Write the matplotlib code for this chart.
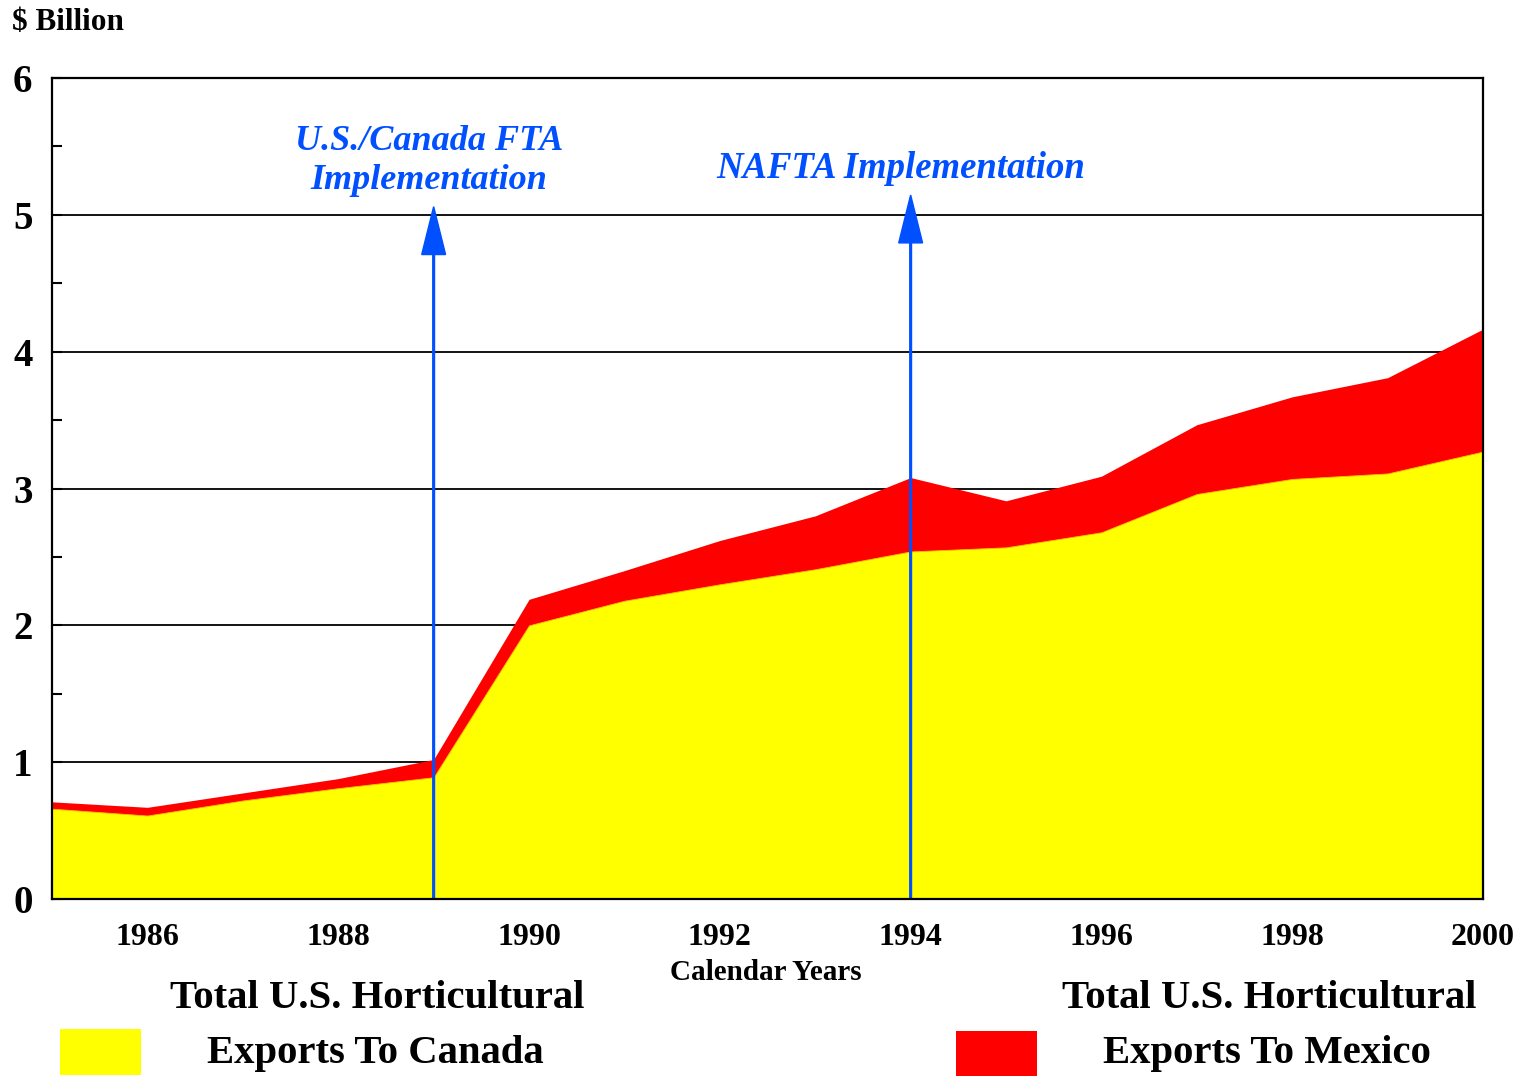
import matplotlib.pyplot as plt
from matplotlib.patches import Rectangle
from matplotlib.ticker import MultipleLocator
import numpy as np

plt.rcParams['font.family'] = ['Liberation Serif', 'DejaVu Serif']
plt.rcParams['font.weight'] = 'bold'

# 数据（十亿美元）
years = np.arange(1985, 2001)
canada = [0.66, 0.61, 0.72, 0.81, 0.89, 2.00, 2.18, 2.30, 2.41, 2.54,
          2.57, 2.68, 2.96, 3.07, 3.11, 3.27]
total = [0.71, 0.67, 0.775, 0.88, 1.02, 2.19, 2.40, 2.62, 2.80, 3.08,
         2.91, 3.09, 3.466, 3.67, 3.81, 4.165]
series_labels = ['Total U.S. Horticultural\nExports To Canada',
                 'Total U.S. Horticultural\nExports To Mexico']
series_colors = ['#FFFF00', '#FF0000']
events = [1989, 1994]
event_tops = [5.06, 5.145]
event_labels = ['U.S./Canada FTA\nImplementation', 'NAFTA Implementation']
blue = '#0050FF'

fig = plt.figure(figsize=(15.22, 10.76), dpi=100)
ax = fig.add_axes([0.0342, 0.1645, 0.9402, 0.763])

# 网格在底层
ax.set_axisbelow(True)
ax.yaxis.grid(True, color='black', linewidth=1.3, zorder=0)

ax.fill_between(years, 0, total, color=series_colors[1], linewidth=0, zorder=1)
ax.fill_between(years, 0, canada, color=series_colors[0], edgecolor='#FFC000',
                linewidth=0.6, zorder=2)

# 事件箭头
for x, top in zip(events, event_tops):
    ax.arrow(x, 0, 0, top, width=0.018, head_width=0.25, head_length=0.35,
             length_includes_head=True, color=blue, zorder=3)

ax.text(1988.95, 5.395, event_labels[0], color=blue, fontsize=26,
        fontstyle='italic', fontweight='bold', ha='center', va='center',
        linespacing=1.25)
ax.text(1993.9, 5.34, event_labels[1], color=blue, fontsize=26.5,
        fontstyle='italic', fontweight='bold', ha='center', va='center')

ax.set_xlim(1985, 2000)
ax.set_ylim(0, 6)

ax.xaxis.set_major_locator(MultipleLocator(2))
ax.xaxis.set_minor_locator(MultipleLocator(1))
ax.set_xticks(range(1986, 2001, 2))
ax.yaxis.set_major_locator(MultipleLocator(1))
ax.yaxis.set_minor_locator(MultipleLocator(0.5))

ax.tick_params(axis='x', which='both', direction='in', length=14, width=1.5,
               pad=17, labelsize=23)
ax.tick_params(axis='y', which='both', direction='in', length=7, width=1.5,
               pad=14, labelsize=28)
ax.tick_params(top=False, right=False)
for s in ax.spines.values():
    s.set_linewidth(1.6)
    s.set_zorder(5)

fig.text(12 / 1522, 1 - 22 / 1076, '$ Billion', fontsize=22.5, ha='left', va='center')
fig.text(766 / 1522, 1 - 972 / 1076, 'Calendar Years', fontsize=21,
         ha='center', va='center')

# 图例（手工排版）
legend_layout = [(60, 377, 1029), (956, 1269, 1031)]
for (px, tx, py), label, color in zip(legend_layout, series_labels, series_colors):
    fig.add_artist(Rectangle((px / 1522, 1 - (py + 46) / 1076), 81 / 1522, 46 / 1076,
                             transform=fig.transFigure, facecolor=color,
                             edgecolor='none'))
    line1, line2 = label.split('\n')
    fig.text(tx / 1522, 1 - 998 / 1076, line1, fontsize=29.3, ha='center', va='center')
    fig.text((tx - 2) / 1522, 1 - 1053 / 1076, line2, fontsize=29.3,
             ha='center', va='center')

plt.savefig('out.png', dpi=100)
